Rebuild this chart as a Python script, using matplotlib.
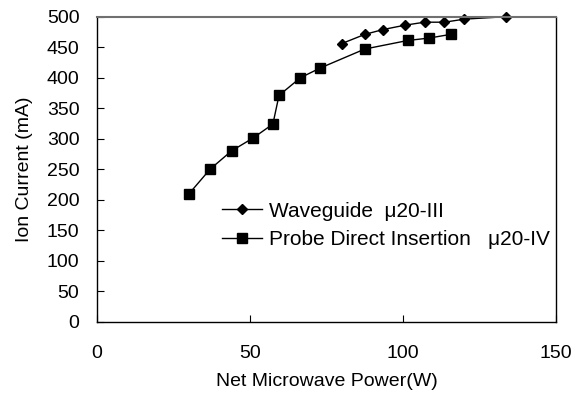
import matplotlib
matplotlib.use('Agg')
import matplotlib.pyplot as plt

plt.rcParams['font.family'] = ['Liberation Sans', 'DejaVu Sans']

# Waveguide (mu20-III)
wg_power = [80, 87.5, 93.5, 100.5, 107, 113.5, 120, 133.5]
wg_current = [456, 471, 479, 486, 491, 491, 496, 500]

# Probe direct insertion (mu20-IV)
pr_power = [30, 37, 44, 51, 57.5, 59.5, 66.5, 73, 87.5, 101.5, 108.5, 115.5]
pr_current = [209, 250, 280, 301, 324, 371, 400, 416, 447, 461, 465, 471]

xticks = [0, 50, 100, 150]
yticks = list(range(0, 501, 50))

fig = plt.figure(figsize=(5.82, 3.94), dpi=100)
ax = fig.add_axes([0.1662, 0.1835, 0.7896, 0.7741])

ax.plot(wg_power, wg_current, '-', color='black', lw=1, marker='D', ms=5.5,
        label='Waveguide  \u03bc20-III', clip_on=False)
ax.plot(pr_power, pr_current, '-', color='black', lw=1, marker='s', ms=7,
        label='Probe Direct Insertion   \u03bc20-IV', clip_on=False)

ax.set_xlim(0, 150)
ax.set_ylim(0, 500)
ax.set_xticks(xticks)
ax.set_yticks(yticks)
ax.tick_params(axis='both', direction='in', length=5, width=0.8, labelsize=14)
ax.tick_params(axis='x', pad=17)
ax.tick_params(axis='y', pad=12.5)

for s in ['left', 'right', 'bottom']:
    ax.spines[s].set_linewidth(1)
    ax.spines[s].set_color('black')
ax.spines['top'].set_color('#707070')
ax.spines['top'].set_linewidth(1.5)

ax.set_xlabel('Net Microwave Power(W)', fontsize=14)
ax.set_ylabel('Ion Current (mA)', fontsize=14)
ax.xaxis.set_label_coords(0.5, -0.168)
ax.yaxis.set_label_coords(-0.139, 0.5)

ax.legend(loc='upper left', bbox_to_anchor=(0.272, 0.394), frameon=False,
          fontsize=15, handlelength=1.95, handletextpad=0.3,
          labelspacing=0.45, borderpad=0, borderaxespad=0)

fig.savefig('out.png', dpi=100)
